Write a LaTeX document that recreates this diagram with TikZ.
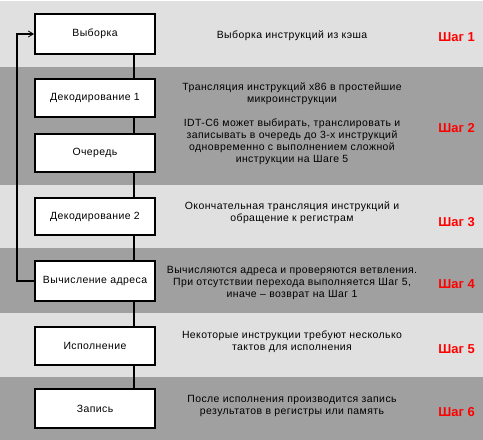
\documentclass[tikz,border=0pt]{standalone}
\usepackage{fontspec}
\setmainfont{Liberation Sans}
\newfontfamily\wideface[LetterSpace=4]{Liberation Sans}
\usetikzlibrary{arrows.meta}
\definecolor{bandlight}{RGB}{224,224,224}
\definecolor{banddark}{RGB}{160,160,160}
\definecolor{stepred}{RGB}{255,0,0}
\tikzset{
  stagebox/.style={draw=black, line width=2bp, fill=white, minimum width=120bp, inner sep=0pt, font=\wideface\fontsize{10.5}{12}\selectfont},
  desc/.style={align=center, font=\wideface\fontsize{10.5}{12}\selectfont, inner sep=0pt},
  steplabel/.style={anchor=east, text=stepred, font=\fontsize{13}{15}\selectfont\bfseries, inner sep=0pt},
  link/.style={line width=2bp, draw=black},
}
\begin{document}
\begin{tikzpicture}[x=1bp, y=-1bp]
\useasboundingbox (0,0) rectangle (483,440);
% bands
\fill[white] (0,0) rectangle (483,440);
\fill[bandlight] (0,1) rectangle (483,67);
\fill[banddark] (0,67) rectangle (483,185);
\fill[bandlight] (0,185) rectangle (483,248);
\fill[banddark] (0,248) rectangle (483,313);
\fill[bandlight] (0,313) rectangle (483,377);
\fill[banddark] (0,377) rectangle (483,440);
% spine coordinate
\coordinate (spine) at (134,0);
\coordinate (back) at (17,0);
% boxes
\node[stagebox, minimum height=40bp] (fetch) at (95,34) {Выборка};
\node[stagebox, minimum height=38bp] (dec1) at (95,98) {Декодирование 1};
\node[stagebox, minimum height=38bp] (queue) at (95,153) {Очередь};
\node[stagebox, minimum height=37bp] (dec2) at (95,216.5) {Декодирование 2};
\node[stagebox, minimum height=40bp] (calc) at (95,281) {Вычисление адреса};
\node[stagebox, minimum height=38bp] (exec) at (95,346) {Исполнение};
\node[stagebox, minimum height=39bp] (write) at (95,408.5) {Запись};
% connectors
\draw[link] (fetch.south -| spine) -- (dec1.north -| spine);
\draw[link] (dec1.south -| spine) -- (queue.north -| spine);
\draw[link] (queue.south -| spine) -- (dec2.north -| spine);
\draw[link] (dec2.south -| spine) -- (calc.north -| spine);
\draw[link] (calc.south -| spine) -- (exec.north -| spine);
\draw[link] (exec.south -| spine) -- (write.north -| spine);
\draw[link, -{Straight Barb[length=5bp,width=6bp,line width=0.8bp]}] (calc.west) -- (calc.west -| back) |- (fetch.west);
% descriptions
\node[desc] (d1) at (292,36) {Выборка инструкций из кэша};
\node[desc] (d2a) at (292,94) {Трансляция инструкций x86 в простейшие\\микроинструкции};
\node[desc] (d2b) at (292,141.5) {IDT-C6 может выбирать, транслировать и\\записывать в очередь до 3-х инструкций\\одновременно с выполнением сложной\\инструкции на Шаге 5};
\node[desc] (d3) at (292,213) {Окончательная трансляция инструкций и\\обращение к регистрам};
\node[desc] (d4) at (292,283) {Вычисляются адреса и проверяются ветвления.\\При отсутствии перехода выполняется Шаг 5,\\иначе – возврат на Шаг 1};
\node[desc] (d5) at (292,342) {Некоторые инструкции требуют несколько\\тактов для исполнения};
\node[desc] (d6) at (292,406) {После исполнения производится запись\\результатов в регистры или память};
% step labels
\node[steplabel] (s1) at (475,37) {Шаг 1};
\node[steplabel] (s2) at (475,128) {Шаг 2};
\node[steplabel] (s3) at (475,222) {Шаг 3};
\node[steplabel] (s4) at (475,284) {Шаг 4};
\node[steplabel] (s5) at (475,349) {Шаг 5};
\node[steplabel] (s6) at (475,412) {Шаг 6};
\end{tikzpicture}
\end{document}
